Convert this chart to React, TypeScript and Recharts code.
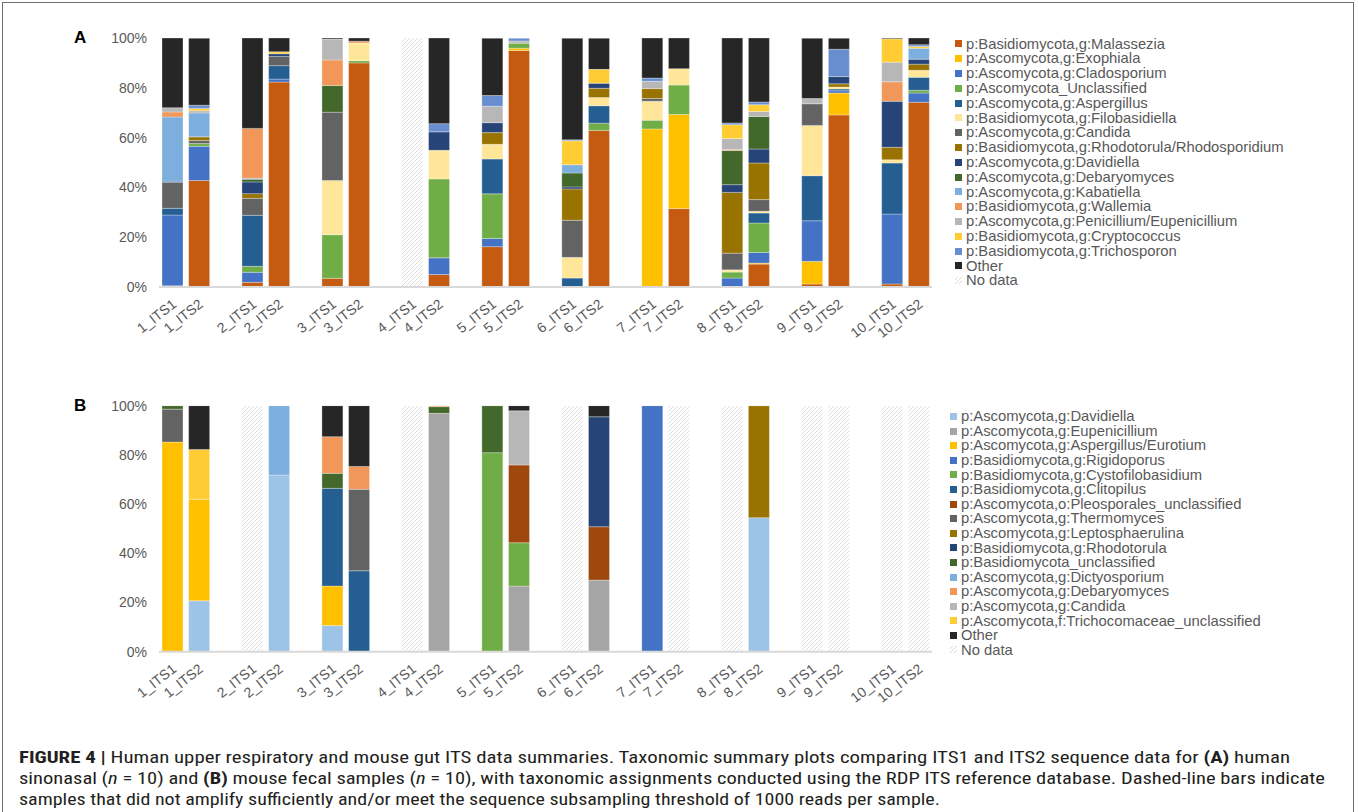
import React from "react";
import { BarChart, Bar, XAxis, YAxis, Legend } from "recharts";

const FONT = '"Liberation Sans", Arial, sans-serif';

// sample order: 1_ITS1, 1_ITS2, 2_ITS1, 2_ITS2 ... 10_ITS2
const samples = ["1", "2", "3", "4", "5", "6", "7", "8", "9", "10"];
const regions = ["ITS1", "ITS2"];
const percentTicks = [0, 20, 40, 60, 80, 100];

// ---- panel A: human sinonasal ----
const aMalassezia = [0.5, 42.8, 1.9, 82.3, 3.5, 90, 0, 5, 16.2, 95, 0, 62.9, 0, 31.5, 0, 9.2, 1.2, 69.1, 1.2, 74.2];
const aExophiala = [0, 0, 0, 0, 0, 0, 0, 0, 0, 0.9, 0, 0, 63.5, 37.8, 0, 0.4, 9.1, 8.8, 0, 0];
const aCladosporium = [28.4, 13.7, 4, 1.2, 0, 0, 0, 6.7, 3.3, 0, 0, 0, 0, 0, 3.6, 4.3, 16.3, 0.9, 28.1, 3.7];
const aUnclassified = [0, 1.1, 2.4, 0, 17.5, 0.9, 0, 31.7, 17.9, 2, 0, 2.9, 3.5, 11.8, 2.4, 11.8, 0, 0, 0, 1.1];
const aAspergillus = [2.7, 0, 20.5, 5.4, 0, 0, 0, 0, 14, 0, 3.6, 7, 0, 0, 0, 4, 18.1, 0.7, 20.5, 5.2];
const aFilobasidiella = [0, 0, 0, 0, 21.8, 7.1, 0, 11.5, 5.9, 0, 8.3, 3.3, 7.6, 6.6, 0.9, 0.7, 20.2, 0.8, 1.3, 2.8];
const aCandida = [10.4, 1.2, 6.8, 3.7, 27.4, 0, 0, 0, 0, 0, 14.9, 0, 1.1, 0, 6.7, 4.7, 8.7, 0, 0, 0];
const aRhodotorula = [0, 1.5, 1.9, 0, 0, 0, 0, 0, 4.7, 0, 12.6, 3.7, 4, 0, 24.4, 14.7, 0, 1.3, 5, 2.5];
const aDavidiella = [0.5, 0, 4.7, 1.1, 0, 0, 0, 7.4, 4, 0, 0.8, 2, 0, 0, 3.1, 5.6, 0, 2.9, 18.5, 2];
const aDebaryomyces = [0, 0, 1.1, 0, 10.7, 0, 0, 0, 0, 0, 5.6, 0, 0, 0, 13.7, 13.1, 0, 0, 0, 0];
const aKabatiella = [25.8, 9.6, 0.4, 0, 0, 0, 0, 0, 0, 0, 3.3, 0, 0, 0, 0, 0, 0, 0, 0, 4.4];
const aWallemia = [2, 0, 20, 0, 10.3, 0.7, 0, 0, 0, 0, 0, 0, 0, 0, 0.4, 0, 0, 0, 7.8, 0];
const aPenicillium = [1.7, 0.9, 0, 0, 8.4, 0, 0, 0, 6.6, 0.9, 0, 0, 2.9, 0, 4.4, 2, 2.1, 0, 7.9, 0];
const aCryptococcus = [0, 0.9, 0, 0.8, 0, 0, 0, 0, 0, 0, 9.6, 5.6, 0, 0, 5.6, 2.7, 0, 0, 9.4, 0.7];
const aTrichosporon = [0, 1.3, 0, 0, 0, 0, 0, 3.3, 4.3, 1.1, 0.4, 0, 1.3, 0, 0.7, 1.1, 0, 11, 0, 0.7];
const aOther = [28, 26.9, 36.4, 5.5, 0.4, 1.3, 0, 34.4, 23, 0, 40.8, 12.5, 16.1, 12.4, 34.5, 25.7, 24.2, 4.4, 0.4, 2.7];
const aNoData = ["4_ITS1"];

// ---- panel B: mouse fecal ----
const bDavidiella = [0, 20.7, 0, 71.8, 10.6, 0, 0, 0, 0, 0, 0, 0, 0, 0, 0, 54.5, 0, 0, 0, 0];
const bEupenicillium = [0, 0, 0, 0, 0, 0, 0, 96.9, 0, 26.7, 0, 29.1, 0, 0, 0, 0, 0, 0, 0, 0];
const bAspergillus = [85.2, 41.3, 0, 0, 16.1, 0, 0, 0, 0, 0, 0, 0, 0, 0, 0, 0, 0, 0, 0, 0];
const bRigidoporus = [0, 0, 0, 0, 0, 0, 0, 0, 0, 0, 0, 0, 100, 0, 0, 0, 0, 0, 0, 0];
const bCystofilobasidium = [0, 0, 0, 0, 0, 0, 0, 0, 80.9, 17.6, 0, 0, 0, 0, 0, 0, 0, 0, 0, 0];
const bClitopilus = [0, 0, 0, 0, 39.7, 32.9, 0, 0, 0, 0, 0, 0, 0, 0, 0, 0, 0, 0, 0, 0];
const bPleosporales = [0, 0, 0, 0, 0, 0, 0, 0, 0, 31.6, 0, 21.7, 0, 0, 0, 0, 0, 0, 0, 0];
const bThermomyces = [13.4, 0, 0, 0, 0, 33.1, 0, 0, 0, 0, 0, 0, 0, 0, 0, 0, 0, 0, 0, 0];
const bLeptosphaerulina = [0, 0, 0, 0, 0, 0, 0, 0, 0, 0, 0, 0, 0, 0, 0, 45.5, 0, 0, 0, 0];
const bRhodotorula = [0, 0, 0, 0, 0, 0, 0, 0, 0, 0, 0, 44.7, 0, 0, 0, 0, 0, 0, 0, 0];
const bBasidioUncl = [1.4, 0, 0, 0, 6.1, 0, 0, 2.7, 19.1, 0, 0, 0, 0, 0, 0, 0, 0, 0, 0, 0];
const bDictyosporium = [0, 0, 0, 28.2, 0, 0, 0, 0, 0, 0, 0, 0, 0, 0, 0, 0, 0, 0, 0, 0];
const bDebaryomyces = [0, 0, 0, 0, 14.9, 9.3, 0, 0.4, 0, 0, 0, 0, 0, 0, 0, 0, 0, 0, 0, 0];
const bCandida = [0, 0, 0, 0, 0, 0, 0, 0, 0, 22, 0, 0, 0, 0, 0, 0, 0, 0, 0, 0];
const bTrichocomaceae = [0, 20.2, 0, 0, 0, 0, 0, 0, 0, 0, 0, 0, 0, 0, 0, 0, 0, 0, 0, 0];
const bOther = [0, 17.8, 0, 0, 12.6, 24.7, 0, 0, 0, 2.1, 0, 4.5, 0, 0, 0, 0, 0, 0, 0, 0];
const bNoData = ["2_ITS1", "4_ITS1", "6_ITS1", "7_ITS2", "8_ITS1", "9_ITS1", "9_ITS2", "10_ITS1", "10_ITS2"];

type Series = { key: string; name: string; color: string; values: number[] };

const seriesA: Series[] = [
  { key: "malassezia", name: "p:Basidiomycota,g:Malassezia", color: "#C55A11", values: aMalassezia },
  { key: "exophiala", name: "p:Ascomycota,g:Exophiala", color: "#FFC000", values: aExophiala },
  { key: "cladosporium", name: "p:Ascomycota,g:Cladosporium", color: "#4472C4", values: aCladosporium },
  { key: "unclassified", name: "p:Ascomycota_Unclassified", color: "#70AD47", values: aUnclassified },
  { key: "aspergillus", name: "p:Ascomycota,g:Aspergillus", color: "#255E91", values: aAspergillus },
  { key: "filobasidiella", name: "p:Basidiomycota,g:Filobasidiella", color: "#FFE699", values: aFilobasidiella },
  { key: "candida", name: "p:Ascomycota,g:Candida", color: "#636363", values: aCandida },
  { key: "rhodotorula", name: "p:Basidiomycota,g:Rhodotorula/Rhodosporidium", color: "#997300", values: aRhodotorula },
  { key: "davidiella", name: "p:Ascomycota,g:Davidiella", color: "#264478", values: aDavidiella },
  { key: "debaryomyces", name: "p:Ascomycota,g:Debaryomyces", color: "#43682B", values: aDebaryomyces },
  { key: "kabatiella", name: "p:Ascomycota,g:Kabatiella", color: "#7CAFDD", values: aKabatiella },
  { key: "wallemia", name: "p:Basidiomycota,g:Wallemia", color: "#F1975A", values: aWallemia },
  { key: "penicillium", name: "p:Ascomycota,g:Penicillium/Eupenicillium", color: "#B7B7B7", values: aPenicillium },
  { key: "cryptococcus", name: "p:Basidiomycota,g:Cryptococcus", color: "#FFCD33", values: aCryptococcus },
  { key: "trichosporon", name: "p:Basidiomycota,g:Trichosporon", color: "#698ED0", values: aTrichosporon },
  { key: "other", name: "Other", color: "#262626", values: aOther },
];

const seriesB: Series[] = [
  { key: "davidiella", name: "p:Ascomycota,g:Davidiella", color: "#9DC3E6", values: bDavidiella },
  { key: "eupenicillium", name: "p:Ascomycota,g:Eupenicillium", color: "#A5A5A5", values: bEupenicillium },
  { key: "aspergillus", name: "p:Ascomycota,g:Aspergillus/Eurotium", color: "#FFC000", values: bAspergillus },
  { key: "rigidoporus", name: "p:Basidiomycota,g:Rigidoporus", color: "#4472C4", values: bRigidoporus },
  { key: "cystofilobasidium", name: "p:Basidiomycota,g:Cystofilobasidium", color: "#70AD47", values: bCystofilobasidium },
  { key: "clitopilus", name: "p:Basidiomycota,g:Clitopilus", color: "#255E91", values: bClitopilus },
  { key: "pleosporales", name: "p:Ascomycota,o:Pleosporales_unclassified", color: "#9E480E", values: bPleosporales },
  { key: "thermomyces", name: "p:Ascomycota,g:Thermomyces", color: "#636363", values: bThermomyces },
  { key: "leptosphaerulina", name: "p:Ascomycota,g:Leptosphaerulina", color: "#997300", values: bLeptosphaerulina },
  { key: "rhodotorula", name: "p:Basidiomycota,g:Rhodotorula", color: "#264478", values: bRhodotorula },
  { key: "basidioUncl", name: "p:Basidiomycota_unclassified", color: "#43682B", values: bBasidioUncl },
  { key: "dictyosporium", name: "p:Ascomycota,g:Dictyosporium", color: "#7CAFDD", values: bDictyosporium },
  { key: "debaryomyces", name: "p:Ascomycota,g:Debaryomyces", color: "#F1975A", values: bDebaryomyces },
  { key: "candida", name: "p:Ascomycota,g:Candida", color: "#B7B7B7", values: bCandida },
  { key: "trichocomaceae", name: "p:Ascomycota,f:Trichocomaceae_unclassified", color: "#FFCD33", values: bTrichocomaceae },
  { key: "other", name: "Other", color: "#262626", values: bOther },
];

// one blank category between sample pairs, like the Excel original
function buildRows(series: Series[], noData: string[]) {
  const rows: any[] = [];
  samples.forEach((s, i) => {
    if (i > 0) rows.push({ key: `gap${i}` });
    regions.forEach((r, j) => {
      const idx = i * 2 + j;
      const key = `${s}_${r}`;
      const row: any = { key };
      series.forEach((se) => (row[se.key] = se.values[idx]));
      row.noData = noData.includes(key) ? 100 : 0;
      rows.push(row);
    });
  });
  return rows;
}

const rowsA = buildRows(seriesA, aNoData);
const rowsB = buildRows(seriesB, bNoData);

const SampleTick = (props: any) => {
  const { x, y, payload } = props;
  if (String(payload.value).startsWith("gap")) return <g />;
  return (
    <text
      x={0}
      y={0}
      transform={`translate(${x + 5},${y + 11}) rotate(-38)`}
      textAnchor="end"
      fill="#595959"
      fontSize={14}
      fontFamily={FONT}
    >
      {payload.value}
    </text>
  );
};

const legendContent = (series: Series[], lineH: number, markerGap: number) => () => (
  <div style={{ fontFamily: FONT, fontSize: 14.8, color: "#595959", lineHeight: `${lineH}px`, textAlign: "left" }}>
    {series.map((s) => (
      <div key={s.key} style={{ display: "flex", alignItems: "center", whiteSpace: "nowrap", height: lineH }}>
        <span style={{ display: "inline-block", width: 7, height: 7, background: s.color, marginRight: markerGap }} />
        {s.name}
      </div>
    ))}
    <div style={{ display: "flex", alignItems: "center", whiteSpace: "nowrap", height: lineH }}>
      <svg width={7} height={7} style={{ marginRight: markerGap }}>
        <path d="M0,7 L7,0 M0,3 L3,0 M4,7 L7,4" stroke="#D0D0D0" strokeWidth={0.8} />
      </svg>
      No data
    </div>
  </div>
);

const Hatch = ({ id }: { id: string }) => (
  <defs>
    <pattern id={id} patternUnits="userSpaceOnUse" width={4} height={4}>
      <rect width={4} height={4} fill="#ffffff" />
      <path d="M-1,1 l2,-2 M0,4 l4,-4 M3,5 l2,-2" stroke="#D2D2D2" strokeWidth={0.75} />
    </pattern>
  </defs>
);

const Panel = ({
  rows,
  series,
  hatchId,
  height,
  top,
  plotH,
  legendTop,
  legendLeft,
  lineH,
  markerGap,
}: any) => (
  <BarChart
    width={1358}
    height={height}
    data={rows}
    margin={{ top, right: 426, left: 0, bottom: 0 }}
    barSize={21}
  >
    <Hatch id={hatchId} />
    <XAxis
      dataKey="key"
      interval={0}
      tickLine={false}
      axisLine={{ stroke: "#D9D9D9", strokeWidth: 2 }}
      tick={<SampleTick />}
      height={height - top - plotH}
    />
    <YAxis
      width={159}
      domain={[0, 100]}
      ticks={percentTicks}
      allowDataOverflow
      tickLine={false}
      axisLine={false}
      tickSize={0}
      tickMargin={12}
      tickFormatter={(v: number) => `${v}%`}
      tick={{ fill: "#595959", fontSize: 14, fontFamily: FONT }}
    />
    {series.map((s: Series) => (
      <Bar
        key={s.key}
        dataKey={s.key}
        name={s.name}
        stackId="a"
        fill={s.color}
        stroke="#ffffff"
        strokeOpacity={0.5}
        strokeWidth={0.6}
        isAnimationActive={false}
      />
    ))}
    <Bar dataKey="noData" name="No data" stackId="a" fill={`url(#${hatchId})`} isAnimationActive={false} />
    <Legend
      layout="vertical"
      align="center"
      verticalAlign="middle"
      content={legendContent(series, lineH, markerGap)}
      wrapperStyle={{ left: legendLeft, top: legendTop, width: 400, height: "auto" }}
    />
  </BarChart>
);

const captionStyle = {
  fontFamily: '"Liberation Sans Narrow", "Roboto Condensed", "Liberation Sans", sans-serif',
  fontSize: 17,
  fill: "#231F20",
};

export default function App() {
  return (
    <div
      style={{
        position: "absolute",
        left: 0,
        top: 0,
        width: 1358,
        height: 812,
        overflow: "hidden",
        background: "#ffffff",
        fontFamily: FONT,
      }}
    >
      <div
        style={{
          position: "absolute",
          left: 2,
          top: 2,
          width: 1352,
          height: 840,
          border: "1px solid #6E6E6E",
          boxSizing: "border-box",
        }}
      />
      <div style={{ position: "absolute", left: 74, top: 28, fontWeight: "bold", fontSize: 17, color: "#000" }}>A</div>
      <div style={{ position: "absolute", left: 74, top: 396, fontWeight: "bold", fontSize: 17, color: "#000" }}>B</div>

      <div style={{ position: "absolute", left: 0, top: 0 }}>
        <Panel
          rows={rowsA}
          series={seriesA}
          hatchId="hatchA"
          height={360}
          top={38}
          plotH={249}
          legendTop={36.6}
          legendLeft={955}
          lineH={14.8}
          markerGap={4}
        />
      </div>
      <div style={{ position: "absolute", left: 0, top: 360 }}>
        <Panel
          rows={rowsB}
          series={seriesB}
          hatchId="hatchB"
          height={362}
          top={45.7}
          plotH={246}
          legendTop={49.2}
          legendLeft={950}
          lineH={14.6}
          markerGap={4}
        />
      </div>

      <svg width={1358} height={72} style={{ position: "absolute", left: 0, top: 740 }}>
        <text x={19} y={23} textLength={1271} lengthAdjust="spacingAndGlyphs" style={captionStyle}>
          <tspan fontWeight="bold">FIGURE 4 |</tspan> Human upper respiratory and mouse gut ITS data summaries. Taxonomic
          summary plots comparing ITS1 and ITS2 sequence data for <tspan fontWeight="bold">(A)</tspan> human
        </text>
        <text x={19} y={44} textLength={1306} lengthAdjust="spacingAndGlyphs" style={captionStyle}>
          sinonasal (<tspan fontStyle="italic">n</tspan> = 10) and <tspan fontWeight="bold">(B)</tspan> mouse fecal
          samples (<tspan fontStyle="italic">n</tspan> = 10), with taxonomic assignments conducted using the RDP ITS
          reference database. Dashed-line bars indicate
        </text>
        <text x={19} y={65} textLength={921} lengthAdjust="spacingAndGlyphs" style={captionStyle}>
          samples that did not amplify sufficiently and/or meet the sequence subsampling threshold of 1000 reads per
          sample.
        </text>
      </svg>
    </div>
  );
}
